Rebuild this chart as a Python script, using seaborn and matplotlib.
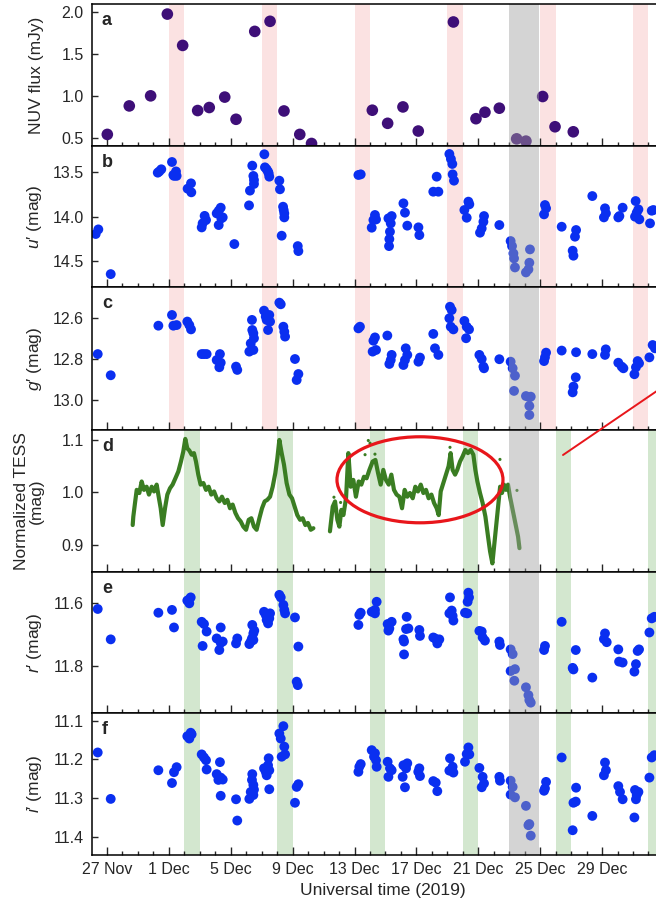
import numpy as np
import pandas as pd
import matplotlib
matplotlib.use('Agg')
import matplotlib.pyplot as plt
import seaborn as sns
from matplotlib.patches import Ellipse
from matplotlib.lines import Line2D

sns.set_style('white')
plt.rcParams['font.family'] = ['Liberation Sans', 'DejaVu Sans']
plt.rcParams['mathtext.fontset'] = 'custom'
plt.rcParams['mathtext.it'] = 'Liberation Sans:italic'
plt.rcParams['mathtext.rm'] = 'Liberation Sans'

# ---------------- data (x = days since 2019-11-27 00:00 UT) ----------------
tick_days = [0, 4, 8, 12, 16, 20, 24, 28, 32]
tick_labels = ['27 Nov', '1 Dec', '5 Dec', '9 Dec', '13 Dec', '17 Dec', '21 Dec', '25 Dec', '29 Dec']

flare_days = [4, 10, 16, 22, 28, 34]        # pink bands (UV / optical panels)
tess_band_days = [5, 11, 17, 23, 29, 35]    # green bands (TESS / r / i panels)
gap_start, gap_end = 26.0, 27.95             # grey band

nuv_day = [0.02, 1.44, 2.82, 3.90, 4.89, 5.86, 6.61, 7.61, 8.34, 9.55, 10.54, 11.44, 12.46, 13.22,
           17.15, 18.14, 19.13, 20.12, 22.39, 23.85, 24.43, 25.36, 26.48, 27.08, 28.16, 28.96, 30.14]
nuv_flux = [0.548, 0.887, 1.007, 1.98, 1.607, 0.832, 0.868, 0.992, 0.728, 1.774, 1.894, 0.827, 0.548, 0.440,
            0.836, 0.680, 0.875, 0.588, 1.886, 0.735, 0.812, 0.860, 0.495, 0.468, 0.999, 0.639, 0.579]

u_day = [-0.73, -0.56, 0.24, 3.28, 3.38, 3.51, 4.20, 4.29, 4.46, 4.50, 4.33, 5.21, 5.43, 5.45, 6.12, 6.18,
         6.31, 6.40, 7.09, 7.22, 7.35, 7.22, 7.39, 7.48, 8.23, 9.18, 9.24, 9.39, 9.46, 9.50, 9.50, 10.17,
         10.21, 10.32, 10.41, 10.45, 10.49, 11.14, 11.18, 11.29, 11.38, 11.42, 11.46, 11.46, 12.33, 12.37,
         16.25, 16.40, 17.11, 17.22, 17.32, 17.39, 18.19, 18.40, 18.29, 18.25, 18.23, 18.34, 19.16, 19.26,
         19.41, 20.13, 20.19, 21.09, 21.31, 21.42, 22.13, 22.23, 22.32, 22.34, 22.43, 23.10, 23.25, 23.36,
         23.42, 24.11, 24.22, 24.33, 24.37, 25.36, 26.09, 26.18, 26.27, 26.31, 26.37, 27.08, 27.24, 27.30,
         27.34, 28.31, 28.38, 28.25, 29.39, 30.10, 30.15, 30.25, 30.32, 31.37, 32.19, 32.25, 32.12, 33.05,
         33.12, 33.33, 34.17, 34.24, 34.35, 34.13, 34.41, 35.10, 35.21, 35.32]
u_mag = [14.194, 14.142, 14.645, 13.504, 13.49, 13.466, 13.384, 13.53, 13.49, 13.54, 13.54, 13.684, 13.624,
         13.725, 14.12, 14.074, 13.99, 14.037, 13.962, 13.932, 13.898, 14.093, 14.018, 14.007, 14.307, 13.872,
         13.706, 13.425, 13.541, 13.586, 13.631, 13.297, 13.444, 13.466, 13.492, 13.511, 13.549, 13.594,
         13.691, 14.213, 13.887, 13.924, 13.962, 14.007, 14.33, 14.386,
         13.53, 13.523, 14.123, 14.037, 13.98, 14.03, 14.018, 13.992, 14.168, 14.251, 14.33, 14.074, 13.849,
         13.954, 14.10, 14.119, 14.206, 13.718, 13.549, 13.718, 13.294, 13.35, 13.406, 13.523, 13.594, 13.924,
         14.011, 13.83, 13.86, 14.179, 14.131, 14.056, 13.992, 14.093, 14.273, 14.33, 14.412, 14.468, 14.57,
         14.626, 14.592, 14.517, 14.367, 13.868, 13.905, 13.973, 14.112, 14.382, 14.438, 14.224, 14.149,
         13.767, 13.905, 13.962, 14.007, 14.007, 13.992, 13.898, 13.823, 13.954, 13.917, 13.999, 14.029,
         14.074, 13.932, 13.924]

g_day = [-0.60, 0.24, 3.32, 4.20, 4.29, 4.50, 5.19, 5.32, 5.43, 6.12, 6.27, 6.44, 7.09, 7.30, 7.26, 7.35,
         8.34, 8.42, 9.20, 9.29, 9.37, 9.39, 9.46, 9.50, 9.46, 10.15, 10.26, 10.32, 10.41, 10.49, 10.54,
         11.14, 11.23, 11.40, 11.46, 11.51, 12.15, 12.26, 12.37,
         16.25, 16.35, 17.22, 17.32, 17.17, 17.39, 18.12, 18.25, 18.40, 18.34, 19.16, 19.31, 19.41, 19.26,
         20.13, 20.23, 21.09, 21.20, 21.42, 22.13, 22.17, 22.28, 22.22, 22.39, 23.10, 23.25, 23.40, 23.21,
         24.07, 24.22, 24.33, 24.37, 25.36, 26.09, 26.22, 26.37, 26.31, 27.08, 27.30, 27.39, 27.30, 27.30,
         28.25, 28.38, 28.31, 29.39, 30.15, 30.10, 30.30, 30.32, 31.37, 32.24, 32.19, 33.05, 33.27, 33.38,
         34.09, 34.19, 34.30, 34.39, 35.06, 35.27, 35.42]
g_mag = [12.777, 12.88, 12.639, 12.587, 12.639, 12.636, 12.619, 12.636, 12.657, 12.777, 12.777, 12.777,
         12.806, 12.777, 12.841, 12.819, 12.838, 12.854, 12.765, 12.725, 12.611, 12.66, 12.676, 12.70,
         12.757, 12.566, 12.595, 12.611, 12.66, 12.587, 12.619, 12.527, 12.535, 12.644, 12.668, 12.692,
         12.801, 12.903, 12.874,
         12.652, 12.644, 12.712, 12.696, 12.765, 12.757, 12.687, 12.825, 12.781, 12.806, 12.83, 12.749,
         12.781, 12.806, 12.814, 12.794, 12.679, 12.749, 12.781, 12.603, 12.547, 12.563, 12.644, 12.657,
         12.616, 12.644, 12.657, 12.70, 12.781, 12.801, 12.838, 12.846, 12.802, 12.814, 12.846, 12.882,
         12.956, 12.981, 12.987, 12.984, 13.029, 13.073, 12.811, 12.77, 12.793, 12.76, 12.935, 12.963,
         12.89, 12.768, 12.777, 12.754, 12.781, 12.819, 12.838, 12.846, 12.875, 12.841, 12.811, 12.822,
         12.793, 12.733, 12.749]

tess_day_1 = [1.66, 1.70, 1.81, 1.92, 2.09, 2.24, 2.39, 2.56, 2.71, 2.89, 3.04, 3.21, 3.34, 3.47, 3.60,
              3.75, 3.90, 4.07, 4.24, 4.42, 4.61, 4.78, 4.93, 5.06, 5.19, 5.32, 5.47, 5.62, 5.75, 5.90,
              6.05, 6.23, 6.40, 6.57, 6.74, 6.92, 7.09, 7.26, 7.43, 7.61, 7.78, 7.95, 8.12, 8.30, 8.47,
              8.64, 8.81, 8.99, 9.16, 9.33, 9.50, 9.67, 9.85, 10.02, 10.19, 10.36, 10.54, 10.71, 10.88,
              11.01, 11.14, 11.29, 11.44, 11.61, 11.79, 11.96, 12.13, 12.30, 12.48, 12.65, 12.82, 12.99,
              13.17, 13.34]
tess_flux_1 = [0.938, 0.954, 0.980, 1.005, 0.999, 1.021, 1.005, 1.011, 0.996, 1.011, 1.002, 1.015, 0.992,
               0.970, 0.938, 0.970, 0.996, 1.008, 1.015, 1.027, 1.040, 1.059, 1.078, 1.102, 1.084, 1.080,
               1.072, 1.075, 1.059, 1.034, 1.015, 1.018, 1.005, 1.011, 0.996, 1.002, 0.989, 0.983, 0.992,
               0.980, 0.986, 0.970, 0.977, 0.961, 0.951, 0.945, 0.935, 0.929, 0.948, 0.951, 0.935, 0.929,
               0.951, 0.970, 0.983, 0.986, 0.992, 1.011, 1.037, 1.065, 1.100, 1.075, 1.053, 1.018, 0.996,
               0.989, 0.973, 0.957, 0.948, 0.951, 0.938, 0.942, 0.929, 0.932]
tess_day_2 = [14.41, 14.59, 14.74, 14.89, 15.02, 15.15, 15.28, 15.45, 15.60, 15.75, 15.92, 16.09, 16.27,
              16.44, 16.61, 16.78, 16.96, 17.17, 17.35, 17.52, 17.69, 17.86, 18.03, 18.21, 18.38, 18.55,
              18.72, 18.90, 19.07, 19.24, 19.41, 19.58, 19.76, 19.93, 20.10, 20.28, 20.45, 20.62, 20.79,
              20.97, 21.14, 21.31, 21.44, 21.57, 21.74, 21.91, 22.08, 22.21, 22.34, 22.50, 22.64, 22.82,
              22.99, 23.16, 23.33, 23.51, 23.68, 23.81, 23.94, 24.11, 24.28, 24.46, 24.63, 24.76, 24.91,
              25.02, 25.15, 25.28, 25.41, 25.53, 25.66, 25.79, 25.92, 26.05, 26.18, 26.31, 26.44, 26.57,
              26.66]
tess_flux_2 = [0.926, 0.973, 0.983, 0.948, 0.935, 0.967, 0.957, 0.989, 1.075, 1.011, 1.024, 0.992, 1.021,
               1.015, 1.030, 1.027, 1.043, 1.059, 1.062, 1.037, 1.015, 1.043, 1.024, 1.015, 1.034, 1.005,
               0.996, 0.992, 0.970, 1.005, 0.992, 0.999, 0.989, 1.011, 1.002, 1.015, 0.999, 1.005, 0.989,
               0.996, 0.980, 0.970, 0.957, 1.002, 1.018, 1.034, 1.050, 1.075, 1.043, 1.034, 1.043, 1.059,
               1.069, 1.081, 1.075, 1.081, 1.072, 1.043, 1.021, 0.999, 0.980, 0.954, 0.916, 0.888, 0.865,
               0.897, 0.935, 0.973, 1.011, 0.999, 1.015, 1.005, 1.015, 0.992, 0.973, 0.954, 0.935, 0.916,
               0.894]
tess_out_day = [16.89, 17.00, 16.68, 17.32, 22.17, 25.40, 26.50, 14.67, 15.10]
tess_out_flux = [1.099, 1.094, 1.072, 1.073, 1.086, 1.063, 1.004, 0.991, 0.981]

r_day = [-0.60, 0.24, 3.32, 4.20, 4.33, 5.19, 5.32, 5.41, 5.32, 6.12, 6.27, 6.44, 6.18, 7.09, 7.35, 7.26,
         7.35, 7.48, 8.34, 8.42, 9.20, 9.29, 9.37, 9.46, 9.52, 9.39, 9.46, 10.15, 10.26, 10.32, 10.41,
         10.49, 10.54, 11.14, 11.23, 11.40, 11.46, 11.51, 12.15, 12.37, 12.26, 12.33,
         16.25, 16.31, 16.40, 17.11, 17.32, 17.43, 17.32, 18.14, 18.40, 18.19, 18.25, 19.16, 19.20, 19.20,
         19.33, 19.48, 19.37, 20.19, 20.23, 21.09, 21.20, 21.35, 21.48, 22.17, 22.13, 22.28, 22.34, 22.39,
         23.14, 23.29, 23.31, 23.40, 23.36, 24.07, 24.22, 24.28, 24.43, 25.36, 25.40, 26.09, 26.22, 26.37,
         26.09, 26.33, 27.08, 27.24, 27.30, 27.39, 28.31, 28.25, 29.39, 30.10, 30.15, 30.30, 31.37, 32.19,
         32.12, 32.30, 33.05, 33.10, 33.33, 34.09, 34.19, 34.30, 34.39, 35.06, 35.21, 35.38]
r_mag = [11.618, 11.715, 11.63, 11.621, 11.677, 11.591, 11.60, 11.581, 11.587, 11.659, 11.666, 11.69,
         11.736, 11.712, 11.677, 11.749, 11.726, 11.722, 11.728, 11.712, 11.73, 11.722, 11.712, 11.696,
         11.687, 11.669, 11.717, 11.627, 11.637, 11.653, 11.664, 11.648, 11.632, 11.573, 11.581, 11.605,
         11.621, 11.632, 11.645, 11.738, 11.85, 11.861,
         11.669, 11.637, 11.63, 11.627, 11.621, 11.595, 11.632, 11.666, 11.659, 11.687, 11.68, 11.715,
         11.722, 11.763, 11.682, 11.68, 11.643, 11.685, 11.704, 11.709, 11.712, 11.728, 11.715, 11.581,
         11.632, 11.623, 11.64, 11.655, 11.63, 11.632, 11.595, 11.581, 11.566, 11.688, 11.69, 11.709,
         11.719, 11.722, 11.733, 11.747, 11.762, 11.81, 11.816, 11.847, 11.868, 11.893, 11.909, 11.917,
         11.736, 11.749, 11.659, 11.806, 11.811, 11.749, 11.837, 11.696, 11.714, 11.724, 11.747, 11.786,
         11.789, 11.818, 11.794, 11.752, 11.747, 11.693, 11.648, 11.643]

i_day = [-0.60, 0.24, 3.32, 4.20, 4.33, 4.50, 5.19, 5.32, 5.41, 5.47, 6.12, 6.27, 6.40, 6.44, 7.30, 7.09,
         7.20, 7.35, 7.48, 7.35, 8.34, 8.42, 9.20, 9.29, 9.37, 9.46, 9.50, 9.39, 9.46, 10.15, 10.26, 10.32,
         10.41, 10.45, 10.49, 10.49, 11.14, 11.23, 11.40, 11.46, 11.51, 11.29, 12.15, 12.26, 12.37,
         16.25, 16.40, 16.31, 17.11, 17.26, 17.39, 17.43, 17.32, 18.14, 18.29, 18.19, 18.40, 19.16, 19.11,
         19.26, 19.41, 19.33, 20.19, 20.23, 20.12, 21.09, 21.25, 21.35, 22.17, 22.13, 22.39, 22.34, 23.14,
         23.25, 23.36, 23.42, 24.07, 24.28, 24.22, 24.37, 25.36, 25.40, 26.09, 26.22, 26.09, 26.37, 27.08,
         27.24, 27.30, 27.39, 28.31, 28.25, 28.38, 29.39, 30.10, 30.15, 30.30, 30.32, 31.37, 32.19, 32.25,
         32.12, 33.05, 33.16, 33.33, 34.09, 34.13, 34.24, 34.35, 34.19, 35.06, 35.21, 35.38]
i_mag = [11.182, 11.302, 11.228, 11.261, 11.233, 11.22, 11.14, 11.146, 11.131, 11.135, 11.187, 11.195,
         11.202, 11.226, 11.207, 11.238, 11.253, 11.247, 11.252, 11.294, 11.303, 11.358, 11.302, 11.284,
         11.253, 11.266, 11.278, 11.238, 11.292, 11.223, 11.232, 11.241, 11.215, 11.197, 11.228, 11.277,
         11.133, 11.146, 11.114, 11.167, 11.187, 11.193, 11.312, 11.271, 11.264,
         11.232, 11.212, 11.219, 11.176, 11.193, 11.202, 11.219, 11.184, 11.206, 11.223, 11.245, 11.228,
         11.215, 11.245, 11.272, 11.21, 11.223, 11.223, 11.243, 11.232, 11.256, 11.26, 11.282, 11.197,
         11.229, 11.234, 11.219, 11.206, 11.186, 11.169, 11.187, 11.222, 11.245, 11.272, 11.262, 11.245,
         11.255, 11.255, 11.271, 11.291, 11.298, 11.32, 11.37, 11.367, 11.397, 11.275, 11.281, 11.258,
         11.195, 11.383, 11.312, 11.309, 11.273, 11.346, 11.208, 11.228, 11.241, 11.269, 11.284, 11.303,
         11.35, 11.279, 11.292, 11.284, 11.303, 11.247, 11.195, 11.189]

# ---------------- styling ----------------
PURPLE = '#3e0f78'
BLUE = '#0a2ff0'
GREEN = '#3a7d22'
PINK = '#fbe2e2'
LGREEN = '#d3e7cf'
RED = '#e8161b'

W, H = 656, 906
fig = plt.figure(figsize=(W / 100, H / 100), dpi=100)

left_px, right_px = 92, 674
edges = [4, 146, 287, 430, 572, 713, 855]
xlim = (-0.97, 36.65)

axes = []
for k in range(6):
    top, bot = edges[k], edges[k + 1]
    ax = fig.add_axes([left_px / W, 1 - bot / H, (right_px - left_px) / W, (bot - top) / H])
    axes.append(ax)

ylims = [(0.41, 2.10), (14.79, 13.204), (13.146, 12.451), (0.8486, 1.119), (11.95, 11.50), (11.447, 11.08)]
yticks = [[0.5, 1.0, 1.5, 2.0], [13.5, 14.0, 14.5], [12.6, 12.8, 13.0], [0.9, 1.0, 1.1],
          [11.6, 11.8], [11.1, 11.2, 11.3, 11.4]]
ylabels = ['NUV flux (mJy)', "$u$\u2032 (mag)", "$g$\u2032 (mag)", 'Normalized TESS\n(mag)',
           "$r$\u2032 (mag)", "$i$\u2032 (mag)"]
letters = ['a', 'b', 'c', 'd', 'e', 'f']

for k, ax in enumerate(axes):
    bands = flare_days if k < 3 else tess_band_days
    col = PINK if k < 3 else LGREEN
    for b in bands:
        ax.axvspan(b, b + 1, color=col, lw=0, zorder=0)
    ax.axvspan(gap_start, gap_end, color='#a0a0a0', alpha=0.45, lw=0, zorder=5)

pt = dict(edgecolor='none', linewidth=0, legend=False, zorder=3)
sns.scatterplot(data=pd.DataFrame({'d': nuv_day, 'v': nuv_flux}), x='d', y='v', ax=axes[0],
                color=PURPLE, s=70, **pt)
sns.scatterplot(data=pd.DataFrame({'d': u_day, 'v': u_mag}), x='d', y='v', ax=axes[1],
                color=BLUE, s=50, **pt)
sns.scatterplot(data=pd.DataFrame({'d': g_day, 'v': g_mag}), x='d', y='v', ax=axes[2],
                color=BLUE, s=50, **pt)
tess = pd.DataFrame({'d': tess_day_1 + tess_day_2, 'v': tess_flux_1 + tess_flux_2,
                     'seg': [1] * len(tess_day_1) + [2] * len(tess_day_2)})
sns.lineplot(data=tess, x='d', y='v', units='seg', estimator=None, sort=False, ax=axes[3],
             color=GREEN, linewidth=3.0, legend=False, zorder=3)
sns.scatterplot(data=pd.DataFrame({'d': tess_out_day, 'v': tess_out_flux}), x='d', y='v', ax=axes[3],
                color=GREEN, s=5, **pt)
sns.scatterplot(data=pd.DataFrame({'d': r_day, 'v': r_mag}), x='d', y='v', ax=axes[4],
                color=BLUE, s=50, **pt)
sns.scatterplot(data=pd.DataFrame({'d': i_day, 'v': i_mag}), x='d', y='v', ax=axes[5],
                color=BLUE, s=50, **pt)

for k, ax in enumerate(axes):
    ax.set_xlim(*xlim)
    ax.set_ylim(*ylims[k])
    ax.set_yticks(yticks[k])
    ax.set_yticklabels([f'{t:.1f}' for t in yticks[k]])
    ax.set_xticks(tick_days + [36])
    ax.set_xticks(np.arange(-0, 37, 1), minor=True)
    if k == 5:
        ax.set_xticklabels(tick_labels + [''])
        ax.set_xlabel('Universal time (2019)', fontsize=12.5, labelpad=4)
    else:
        ax.set_xticklabels([])
        ax.set_xlabel('')
    ax.set_ylabel(ylabels[k], fontsize=12.5, linespacing=1.0)
    ax.yaxis.set_label_coords(-0.083, 0.5)
    ax.tick_params(axis='x', which='major', direction='in', length=5.5, width=1.0, labelsize=11.5,
                   bottom=True, top=False, pad=5)
    ax.tick_params(axis='x', which='minor', direction='in', length=3, width=1.0, bottom=True, top=False)
    ax.tick_params(axis='y', which='major', direction='in', length=4, width=1.0, labelsize=11.5,
                   left=True, pad=6)
    for s in ['left', 'bottom', 'top']:
        ax.spines[s].set_color('black')
        ax.spines[s].set_linewidth(1.1)
        ax.spines[s].set_zorder(6)
    ax.spines['right'].set_visible(False)
    ax.text(0.017, 0.85, letters[k], transform=ax.transAxes, fontsize=13, fontweight='bold',
            va='baseline', ha='left', zorder=7)

# annotation on TESS panel
axes[3].add_patch(Ellipse((20.23, 1.0242), 10.73, 0.1638, fill=False, edgecolor=RED, lw=2.3, zorder=8))
fig.add_artist(Line2D([563 / W, 662 / W], [1 - 455 / H, 1 - 387.5 / H], color=RED, lw=1.4,
                      transform=fig.transFigure))

fig.savefig('out.png', dpi=100)
